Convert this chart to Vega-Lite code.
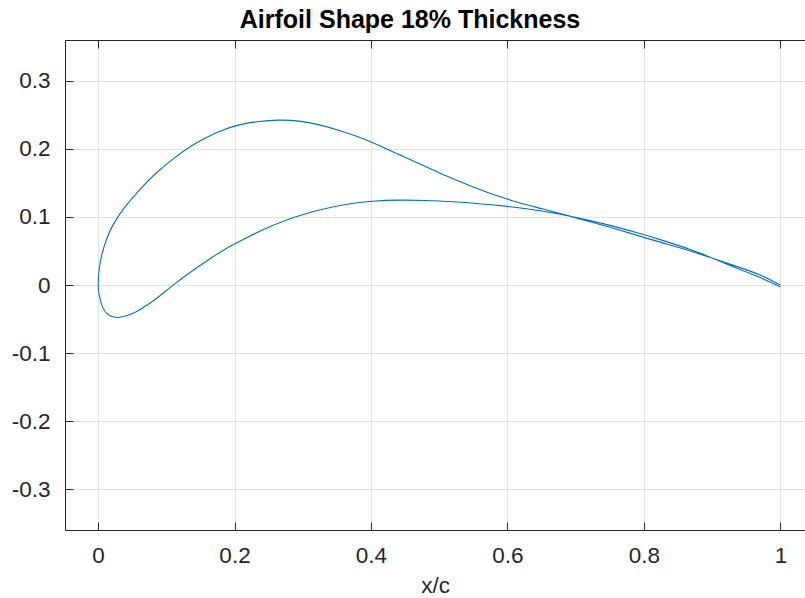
{
  "$schema": "https://vega.github.io/schema/vega-lite/v6.json",
  "autosize": {"type": "none"},
  "padding": {"left": 65, "top": 40, "right": 0, "bottom": 68},
  "width": 740,
  "height": 490,
  "background": "white",
  "title": {"text": "Airfoil Shape 18% Thickness", "font": "Liberation Sans", "fontSize": 25, "fontWeight": "bold", "color": "#000000", "anchor": "middle", "frame": "group", "dx": -25, "offset": 7},
  "config": {
    "view": {"stroke": null},
    "axis": {"domainColor": "#262626", "tickColor": "#262626", "labelColor": "#262626", "labelFont": "Liberation Sans", "labelFontSize": 22.5, "titleFont": "Liberation Sans", "titleFontSize": 22.5, "titleColor": "#262626", "titleFontWeight": "normal", "gridColor": "#e3e3e3", "gridWidth": 1, "tickSize": 8, "domainWidth": 1, "tickWidth": 1}
  },
  "data": {"values": [
    {"i": 0, "x": 1.000, "y": 0.000},
    {"i": 1, "x": 0.969, "y": 0.016},
    {"i": 2, "x": 0.940, "y": 0.026},
    {"i": 3, "x": 0.905, "y": 0.0375},
    {"i": 4, "x": 0.870, "y": 0.050},
    {"i": 5, "x": 0.823, "y": 0.063},
    {"i": 6, "x": 0.794, "y": 0.0718},
    {"i": 7, "x": 0.750, "y": 0.085},
    {"i": 8, "x": 0.700, "y": 0.099},
    {"i": 9, "x": 0.647, "y": 0.113},
    {"i": 10, "x": 0.617, "y": 0.1206},
    {"i": 11, "x": 0.588, "y": 0.130},
    {"i": 12, "x": 0.559, "y": 0.140},
    {"i": 13, "x": 0.529, "y": 0.1524},
    {"i": 14, "x": 0.500, "y": 0.1647},
    {"i": 15, "x": 0.471, "y": 0.178},
    {"i": 16, "x": 0.441, "y": 0.1916},
    {"i": 17, "x": 0.412, "y": 0.2053},
    {"i": 18, "x": 0.383, "y": 0.2176},
    {"i": 19, "x": 0.3535, "y": 0.2274},
    {"i": 20, "x": 0.324, "y": 0.2357},
    {"i": 21, "x": 0.295, "y": 0.2416},
    {"i": 22, "x": 0.266, "y": 0.243},
    {"i": 23, "x": 0.2315, "y": 0.240},
    {"i": 24, "x": 0.207, "y": 0.236},
    {"i": 25, "x": 0.1826, "y": 0.228},
    {"i": 26, "x": 0.158, "y": 0.217},
    {"i": 27, "x": 0.134, "y": 0.203},
    {"i": 28, "x": 0.109, "y": 0.185},
    {"i": 29, "x": 0.085, "y": 0.165},
    {"i": 30, "x": 0.0605, "y": 0.140},
    {"i": 31, "x": 0.036, "y": 0.111},
    {"i": 32, "x": 0.0214, "y": 0.0887},
    {"i": 33, "x": 0.0117, "y": 0.0666},
    {"i": 34, "x": 0.0044, "y": 0.042},
    {"i": 35, "x": 0.001, "y": 0.020},
    {"i": 36, "x": 0.000, "y": 0.000},
    {"i": 37, "x": 0.0005, "y": -0.008},
    {"i": 38, "x": 0.002, "y": -0.017},
    {"i": 39, "x": 0.0068, "y": -0.036},
    {"i": 40, "x": 0.015, "y": -0.045},
    {"i": 41, "x": 0.0264, "y": -0.049},
    {"i": 42, "x": 0.0459, "y": -0.045},
    {"i": 43, "x": 0.065, "y": -0.034},
    {"i": 44, "x": 0.085, "y": -0.021},
    {"i": 45, "x": 0.109, "y": -0.0006},
    {"i": 46, "x": 0.134, "y": 0.018},
    {"i": 47, "x": 0.158, "y": 0.0347},
    {"i": 48, "x": 0.1826, "y": 0.051},
    {"i": 49, "x": 0.207, "y": 0.064},
    {"i": 50, "x": 0.2315, "y": 0.0765},
    {"i": 51, "x": 0.256, "y": 0.0877},
    {"i": 52, "x": 0.280, "y": 0.097},
    {"i": 53, "x": 0.295, "y": 0.102},
    {"i": 54, "x": 0.324, "y": 0.1107},
    {"i": 55, "x": 0.363, "y": 0.119},
    {"i": 56, "x": 0.402, "y": 0.1235},
    {"i": 57, "x": 0.4415, "y": 0.125},
    {"i": 58, "x": 0.4806, "y": 0.1244},
    {"i": 59, "x": 0.5196, "y": 0.1225},
    {"i": 60, "x": 0.5587, "y": 0.1196},
    {"i": 61, "x": 0.598, "y": 0.116},
    {"i": 62, "x": 0.647, "y": 0.1097},
    {"i": 63, "x": 0.700, "y": 0.100},
    {"i": 64, "x": 0.750, "y": 0.088},
    {"i": 65, "x": 0.794, "y": 0.0757},
    {"i": 66, "x": 0.823, "y": 0.067},
    {"i": 67, "x": 0.870, "y": 0.052},
    {"i": 68, "x": 0.905, "y": 0.0375},
    {"i": 69, "x": 0.940, "y": 0.023},
    {"i": 70, "x": 0.969, "y": 0.012},
    {"i": 71, "x": 1.000, "y": -0.003}
  ]},
  "layer": [
    {
      "mark": {"type": "line", "interpolate": "basis", "color": "#0072BD", "strokeWidth": 1.1, "clip": true},
      "encoding": {
        "x": {"field": "x", "type": "quantitative", "scale": {"domain": [-0.0484, 1.036], "nice": false, "zero": false},
              "axis": {"orient": "bottom", "title": "x/c", "values": [0, 0.2, 0.4, 0.6, 0.8, 1], "labelExpr": "'' + datum.value", "ticks": false, "labelPadding": 14, "titlePadding": 8, "grid": true, "zindex": 0}},
        "y": {"field": "y", "type": "quantitative", "scale": {"domain": [-0.36, 0.36], "nice": false, "zero": false},
              "axis": {"orient": "left", "title": null, "values": [-0.3, -0.2, -0.1, 0, 0.1, 0.2, 0.3], "labelExpr": "'' + datum.value", "ticks": false, "labelPadding": 15, "grid": true, "zindex": 0}},
        "order": {"field": "i", "type": "quantitative"}
      }
    },
    {
      "mark": {"type": "point", "opacity": 0},
      "encoding": {
        "x": {"field": "x", "type": "quantitative", "axis": {"orient": "bottom", "offset": -490, "title": null, "labels": false, "domain": true, "ticks": true, "values": [0, 0.2, 0.4, 0.6, 0.8, 1], "grid": false, "zindex": 1}}
      }
    },
    {
      "mark": {"type": "point", "opacity": 0},
      "encoding": {
        "x": {"field": "x", "type": "quantitative", "axis": {"orient": "top", "offset": -490, "title": null, "labels": false, "domain": false, "ticks": true, "values": [0, 0.2, 0.4, 0.6, 0.8, 1], "grid": false, "zindex": 1}}
      }
    },
    {
      "mark": {"type": "point", "opacity": 0},
      "encoding": {
        "y": {"field": "y", "type": "quantitative", "axis": {"orient": "right", "offset": -740, "title": null, "labels": false, "domain": false, "ticks": true, "values": [-0.3, -0.2, -0.1, 0, 0.1, 0.2, 0.3], "grid": false, "zindex": 1}}
      }
    }
  ],
  "resolve": {"axis": {"x": "independent", "y": "independent"}}
}
